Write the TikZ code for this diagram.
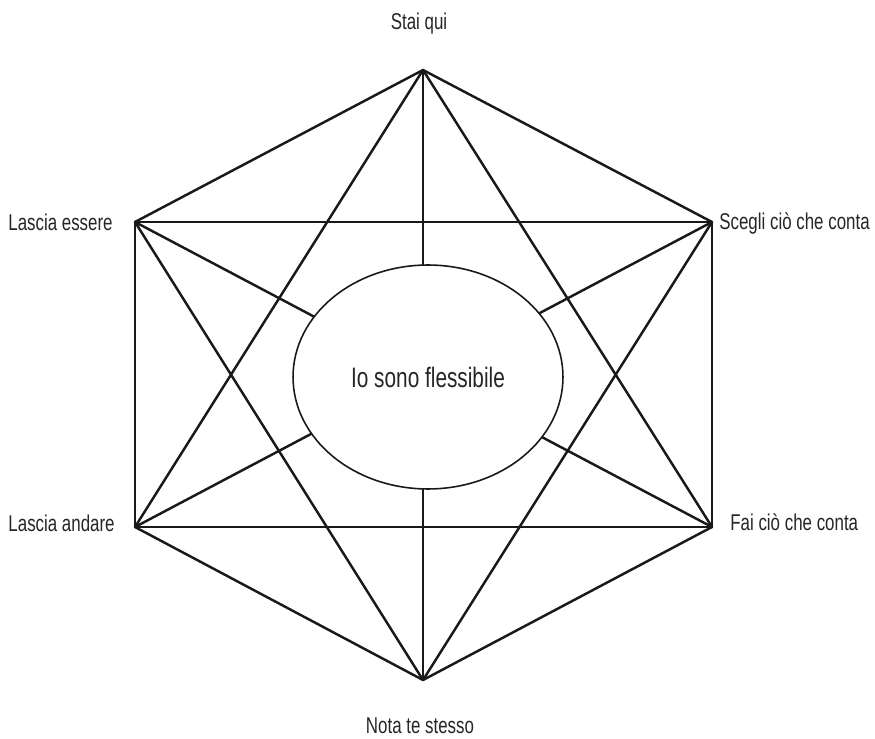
\documentclass[tikz,border=0pt]{standalone}
\usepackage{fontspec}
\newfontfamily\hexfont{Liberation Sans}[FakeStretch=0.74]
\usetikzlibrary{shapes.geometric, positioning}
\tikzstyle{edge}  = [line width=1.4pt, line cap=round, black!90]
\tikzstyle{lbl}   = [inner sep=0pt, text=black!85,
    font=\hexfont\fontsize{13}{15}\selectfont]
\tikzstyle{core}  = [ellipse, draw=black!90, fill=white, line width=0.9pt,
    minimum width=5.4cm, minimum height=4.48cm, inner sep=0pt,
    text=black!85, font=\hexfont\fontsize{16}{18}\selectfont]

\begin{document}
\begin{tikzpicture}[x=0.02cm, y=-0.02cm]
  \useasboundingbox (0,0) rectangle (875,739);
  % corners of the hexagon
  \coordinate (top) at (423,70);
  \coordinate (ul)  at (135,222);
  \coordinate (ur)  at (712,222);
  \coordinate (ll)  at (135,527);
  \coordinate (lr)  at (712,527);
  \coordinate (bot) at (423,680);

  % outline
  \draw[edge] (top)--(ul); \draw[edge] (top)--(ur);
  \draw[edge] (ul)--(ll);  \draw[edge] (ur)--(lr);
  \draw[edge] (ll)--(bot); \draw[edge] (lr)--(bot);
  % inner lines
  \draw[edge] (ul)--(ur);  \draw[edge] (ll)--(lr);
  \draw[edge] (top)--(ll); \draw[edge] (top)--(lr);
  \draw[edge] (ul)--(bot); \draw[edge] (ur)--(bot);
  \draw[edge] (top)--(bot); \draw[edge] (ul)--(lr); \draw[edge] (ur)--(ll);

  \node[core] (self) at (428,377) {Io sono flessibile};

  % labels
  \node[lbl, anchor=base]      (stai)   at (419,30)  {Stai qui};
  \node[lbl, anchor=base east] (essere) at (113,231) {Lascia essere};
  \node[lbl, anchor=base west] (scegli) at (719,230) {Scegli ciò che conta};
  \node[lbl, anchor=base east] (andare) at (115,531) {Lascia andare};
  \node[lbl, anchor=base west] (fai)    at (730,530) {Fai ciò che conta};
  \node[lbl, anchor=base]      (nota)   at (420,733) {Nota te stesso};
\end{tikzpicture}
\end{document}
